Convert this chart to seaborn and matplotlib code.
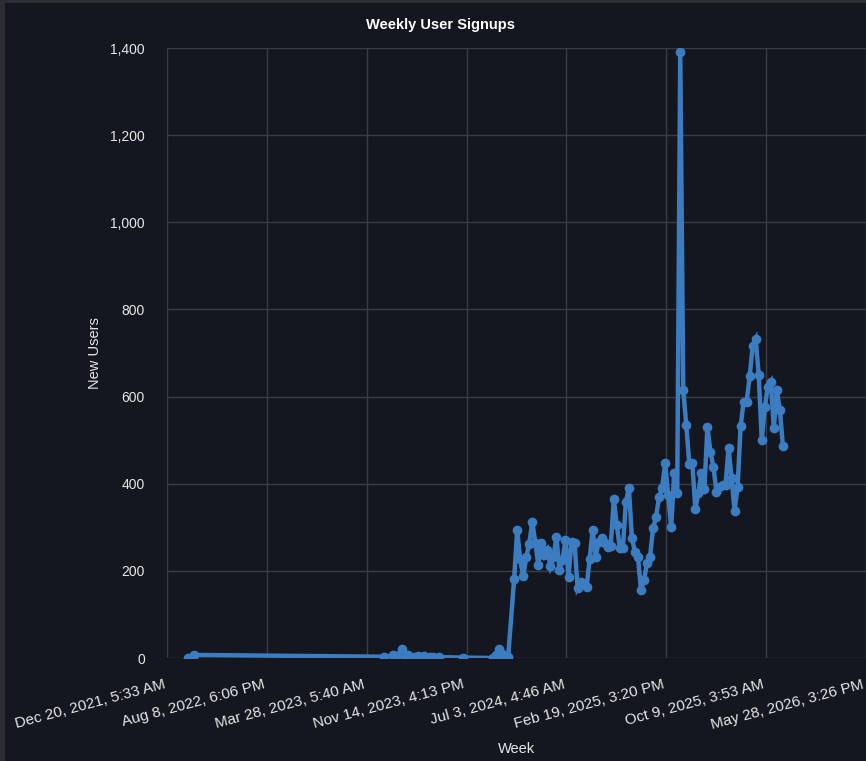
import matplotlib
matplotlib.use("Agg")
import matplotlib.pyplot as plt
import matplotlib.patches as mpatches
import matplotlib.transforms as mtransforms
import seaborn as sns
import pandas as pd

# ---- data ----
early_weeks = ["2022-02-07", "2022-02-21", "2023-05-08", "2023-05-29", "2023-06-05",
               "2023-06-19", "2023-06-26", "2023-07-03", "2023-07-17", "2023-07-24",
               "2023-07-31", "2023-08-07", "2023-08-21", "2023-08-28", "2023-09-11",
               "2023-11-06", "2024-01-15", "2024-01-22", "2024-01-29", "2024-02-05",
               "2024-02-19"]
early_users = [1, 7, 3, 6, 5, 20, 4, 8, 3, 5, 2, 4, 3, 2, 2, 1, 0, 6, 20, 10, 2]

weekly_start = "2024-03-04"
weekly_users = [181, 294, 227, 188, 232, 262, 313, 265, 213, 264,
                236, 248, 211, 232, 278, 202, 225, 271, 186, 267,
                264, 161, 175, 170, 164, 227, 294, 232, 267, 275,
                264, 255, 258, 365, 305, 252, 252, 359, 390, 275,
                244, 232, 156, 179, 218, 232, 298, 324, 370, 390,
                448, 374, 301, 425, 379, 1390, 615, 535, 445, 448,
                342, 379, 425, 387, 530, 473, 438, 382, 392, 397,
                397, 482, 412, 338, 393, 532, 588, 588, 647, 716,
                731, 649, 500, 575, 623, 634, 527, 615, 569, 487]

x_tick_labels = ["Dec 20, 2021, 5:33 AM", "Aug 8, 2022, 6:06 PM", "Mar 28, 2023, 5:40 AM",
                 "Nov 14, 2023, 4:13 PM", "Jul 3, 2024, 4:46 AM", "Feb 19, 2025, 3:20 PM",
                 "Oct 9, 2025, 3:53 AM", "May 28, 2026, 3:26 PM"]
y_ticks = [0, 200, 400, 600, 800, 1000, 1200, 1400]

weeks = list(pd.to_datetime(early_weeks)) + list(
    pd.date_range(weekly_start, periods=len(weekly_users), freq="7D"))
df = pd.DataFrame({"Week": weeks, "New Users": early_users + weekly_users})

# ---- style ----
BG = "#14171f"
GRID = "#3a3d46"
TXT = "#e6e6e6"
LINE = "#3b7dc0"

sns.set_theme(style="dark")
plt.rcParams["font.family"] = ["Liberation Sans", "DejaVu Sans"]
plt.rcParams["lines.solid_joinstyle"] = "miter"

fig = plt.figure(figsize=(8.66, 7.61), dpi=100, facecolor=BG)
ax = fig.add_axes([167 / 866, 1 - 658 / 761, 699 / 866, 610 / 761])
ax.set_facecolor(BG)

sns.lineplot(data=df, x="Week", y="New Users", ax=ax, color=LINE, linewidth=3.2,
             marker="o", markersize=7, markeredgewidth=0, zorder=3)

tick_dates = pd.to_datetime(x_tick_labels, format="%b %d, %Y, %I:%M %p")
ax.set_xticks(tick_dates)
ax.set_xticklabels(x_tick_labels, rotation=15, ha="right", rotation_mode="anchor",
                   fontsize=11)
ax.set_xlim(tick_dates[0], tick_dates[-1])
ax.set_yticks(y_ticks)
ax.set_yticklabels([f"{v:,}" for v in y_ticks], fontsize=10)
ax.set_ylim(0, 1400)

ax.grid(True, color=GRID, linewidth=1.0)
ax.set_axisbelow(True)
for s in ax.spines.values():
    s.set_visible(False)
ax.tick_params(axis="both", colors=GRID, labelcolor=TXT, length=7, width=1)
ax.tick_params(axis="y", pad=9)
ax.tick_params(axis="x", pad=7)
ax.set_xlabel("")
ax.set_ylabel("")
shift = mtransforms.ScaledTranslation(-4 / 100, 0, fig.dpi_scale_trans)
for lab in ax.get_xticklabels():
    lab.set_transform(lab.get_transform() + shift)

fig.text(441 / 866, 1 - 25 / 761, "Weekly User Signups", ha="center", va="center",
         color="white", fontsize=10.5, fontweight="bold")
fig.text(95 / 866, 1 - 353 / 761, "New Users", ha="center", va="center", rotation=90,
         color=TXT, fontsize=10.5)
fig.text(516 / 866, 1 - 749 / 761, "Week", ha="center", va="center", color=TXT,
         fontsize=10.5)

# screenshot frame edges
fig.patches.append(mpatches.Rectangle((0, 1 - 3 / 761), 1, 3 / 761, transform=fig.transFigure,
                                      facecolor="#2b2d31", edgecolor="none", zorder=0))
fig.patches.append(mpatches.Rectangle((0, 0), 5 / 866, 1, transform=fig.transFigure,
                                      facecolor="#2b2d31", edgecolor="none", zorder=0))

fig.savefig("out.png", dpi=100, facecolor=BG)
